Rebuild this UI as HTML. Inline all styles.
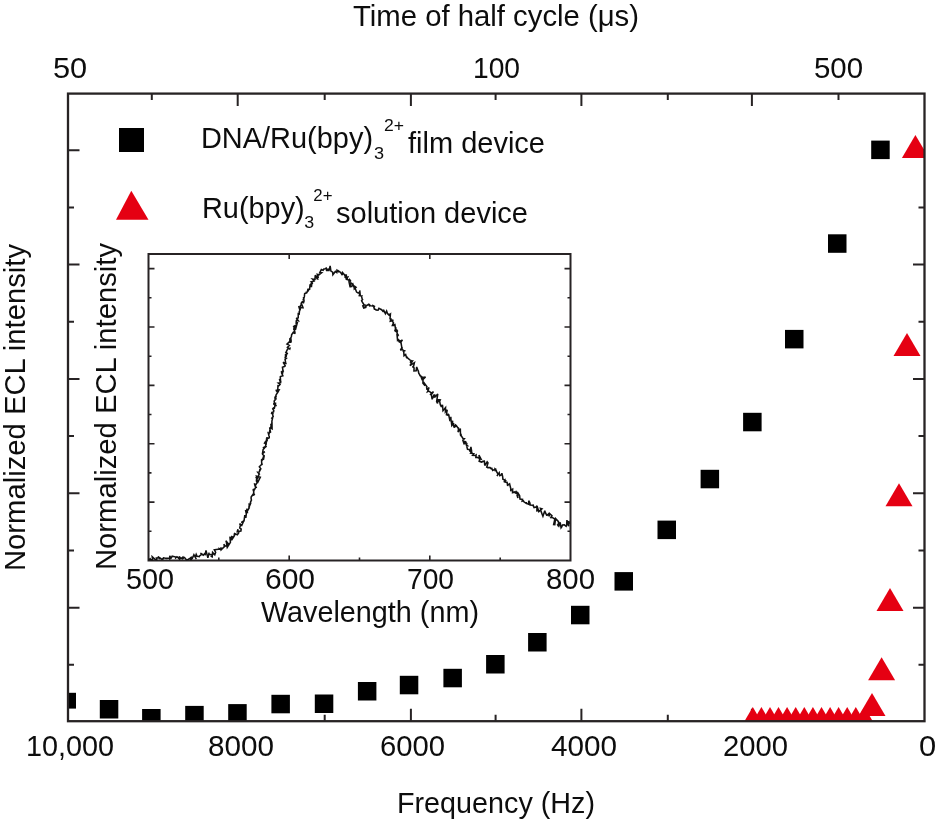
<!DOCTYPE html><html><head><meta charset="utf-8"><style>html,body{margin:0;padding:0;background:#fff;overflow:hidden}svg{display:block;will-change:transform}text{font-family:"Liberation Sans",sans-serif;fill:#0d0d0d;}</style></head><body>
<svg width="936" height="821" viewBox="0 0 936 821">
<defs><clipPath id="mc"><rect x="68" y="93.6" width="856.5" height="627.6"/></clipPath><clipPath id="ic"><rect x="148.5" y="254" width="422" height="306.5"/></clipPath></defs>
<g id="shapes"><path d="M68,664.8h6M924.5,664.8h-6M68,607.7h11.5M924.5,607.7h-11.5M68,550.5h6M924.5,550.5h-6M68,493.3h11.5M924.5,493.3h-11.5M68,436.1h6M924.5,436.1h-6M68,379.0h11.5M924.5,379.0h-11.5M68,321.8h6M924.5,321.8h-6M68,264.6h11.5M924.5,264.6h-11.5M68,207.5h6M924.5,207.5h-6M68,150.3h11.5M924.5,150.3h-11.5M838.5,93.6v6.5M838.5,721.2v-6.5M751.9,93.6v12.5M751.9,721.2v-12.5M667.8,93.6v6.5M667.8,721.2v-6.5M581.4,93.6v12.5M581.4,721.2v-12.5M495.6,93.6v6.5M495.6,721.2v-6.5M410.9,93.6v12.5M410.9,721.2v-12.5M324.7,93.6v6.5M324.7,721.2v-6.5M237.7,93.6v12.5M237.7,721.2v-12.5M151.8,93.6v6.5M151.8,721.2v-6.5" stroke="#272324" stroke-width="2" fill="none"/>
<g clip-path="url(#mc)">
<rect x="60" y="692.8" width="16" height="15.8" fill="#000"/>
<rect x="99.8" y="700.0" width="18.5" height="18.5" fill="#000"/>
<rect x="142.1" y="709.0" width="18.5" height="18.5" fill="#000"/>
<rect x="185.2" y="705.9" width="18.5" height="18.5" fill="#000"/>
<rect x="228.2" y="704.1" width="18.5" height="18.5" fill="#000"/>
<rect x="271.4" y="694.8" width="18.5" height="18.5" fill="#000"/>
<rect x="314.8" y="694.5" width="18.5" height="18.5" fill="#000"/>
<rect x="357.9" y="682.0" width="18.5" height="18.5" fill="#000"/>
<rect x="399.8" y="675.8" width="18.5" height="18.5" fill="#000"/>
<rect x="443.4" y="668.8" width="18.5" height="18.5" fill="#000"/>
<rect x="486.1" y="655.0" width="18.5" height="18.5" fill="#000"/>
<rect x="528.1" y="633.0" width="18.5" height="18.5" fill="#000"/>
<rect x="571.0" y="605.8" width="18.5" height="18.5" fill="#000"/>
<rect x="614.5" y="572.1" width="18.5" height="18.5" fill="#000"/>
<rect x="657.5" y="520.6" width="18.5" height="18.5" fill="#000"/>
<rect x="700.6" y="469.8" width="18.5" height="18.5" fill="#000"/>
<rect x="743.1" y="412.8" width="18.5" height="18.5" fill="#000"/>
<rect x="785.0" y="329.9" width="18.5" height="18.5" fill="#000"/>
<rect x="828.0" y="234.3" width="18.5" height="18.5" fill="#000"/>
<rect x="871.2" y="140.6" width="18.5" height="18.5" fill="#000"/>
<path d="M915.4,134.9L928.9,157.9L901.9,157.9Z" fill="#e50012"/>
<path d="M907.0,333L920.5,356L893.5,356Z" fill="#e50012"/>
<path d="M899.0,483.3L912.5,506.3L885.5,506.3Z" fill="#e50012"/>
<path d="M890.0,588L903.5,611L876.5,611Z" fill="#e50012"/>
<path d="M881.6,657.3L895.1,680.3L868.1,680.3Z" fill="#e50012"/>
<path d="M752.8,707L766.3,730L739.3,730Z" fill="#e50012"/>
<path d="M761.4,707L774.9,730L747.9,730Z" fill="#e50012"/>
<path d="M770.0,707L783.5,730L756.5,730Z" fill="#e50012"/>
<path d="M778.5,707L792.0,730L765.0,730Z" fill="#e50012"/>
<path d="M787.1,707L800.6,730L773.6,730Z" fill="#e50012"/>
<path d="M795.7,707L809.2,730L782.2,730Z" fill="#e50012"/>
<path d="M804.3,707L817.8,730L790.8,730Z" fill="#e50012"/>
<path d="M812.9,707L826.4,730L799.4,730Z" fill="#e50012"/>
<path d="M821.5,707L835.0,730L808.0,730Z" fill="#e50012"/>
<path d="M830.1,707L843.6,730L816.6,730Z" fill="#e50012"/>
<path d="M838.6,707L852.1,730L825.1,730Z" fill="#e50012"/>
<path d="M847.2,707L860.7,730L833.7,730Z" fill="#e50012"/>
<path d="M855.8,707L869.3,730L842.3,730Z" fill="#e50012"/>
<path d="M864.4,707L877.9,730L850.9,730Z" fill="#e50012"/>
<path d="M872.0,693L885.5,716L858.5,716Z" fill="#e50012"/>
</g>
<rect x="68" y="93.6" width="856.5" height="627.6" fill="none" stroke="#272324" stroke-width="2.3"/>
<rect x="119" y="128" width="25" height="24" fill="#000"/>
<path d="M131.3,190.8L148.5,219.7L116,219.7Z" fill="#e50012"/>
<path d="M148.5,531.3h3M570.5,531.3h-3M148.5,502.1h6M570.5,502.1h-6M148.5,472.9h3M570.5,472.9h-3M148.5,443.7h6M570.5,443.7h-6M148.5,414.5h3M570.5,414.5h-3M148.5,385.4h6M570.5,385.4h-6M148.5,356.2h3M570.5,356.2h-3M148.5,327.0h6M570.5,327.0h-6M148.5,297.8h3M570.5,297.8h-3M148.5,268.6h6M570.5,268.6h-6M218.8,560.5v-3M289.2,254v5M289.2,560.5v-5M359.5,560.5v-3M429.8,254v5M429.8,560.5v-5M500.2,560.5v-3" stroke="#272324" stroke-width="1.6" fill="none"/>
<rect x="148.5" y="254" width="422.0" height="306.5" fill="none" stroke="#272324" stroke-width="2"/>
<polyline clip-path="url(#ic)" points="147.80,560.10 150.90,558.50 149.90,559.04 152.63,560.72 152.21,556.71 155.04,559.36 156.82,560.12 156.39,558.07 159.84,558.00 157.86,556.59 159.69,558.60 160.34,558.22 161.93,559.38 163.72,558.56 162.16,559.30 163.53,557.86 164.53,558.09 166.19,558.38 170.91,557.91 169.73,555.82 169.76,558.95 170.98,558.44 172.19,556.19 173.61,556.50 175.80,556.99 175.74,557.80 176.98,556.84 178.03,557.60 179.27,558.80 179.27,556.55 180.84,558.55 182.63,557.20 182.66,558.61 183.42,558.13 184.34,556.84 184.27,557.17 186.72,560.22 188.07,559.49 188.90,558.92 189.35,558.79 191.77,556.78 190.53,560.20 192.36,558.37 193.91,554.75 196.30,559.16 195.25,557.28 196.19,554.42 196.96,556.18 199.05,556.47 199.08,557.26 199.33,556.11 202.00,554.13 200.42,553.08 203.27,555.30 205.48,552.78 205.11,555.35 205.99,550.44 207.89,557.86 209.09,552.62 208.85,554.37 212.49,554.93 211.38,556.36 212.23,556.78 212.60,552.35 214.78,554.71 215.63,552.23 214.32,549.92 216.32,549.52 218.31,549.15 219.41,549.13 219.31,548.73 220.91,549.46 221.01,547.26 221.13,549.74 224.58,546.43 223.76,544.28 225.25,546.11 227.79,545.45 225.84,540.69 228.54,543.92 226.54,543.18 227.26,547.41 230.44,542.33 230.00,537.53 230.76,537.69 232.14,536.09 231.45,540.33 234.41,535.93 232.22,538.22 235.03,534.62 234.31,534.26 234.53,533.48 237.39,534.73 238.78,532.77 237.48,530.63 238.16,529.33 237.33,531.55 240.90,530.96 241.18,529.13 239.71,527.94 240.39,525.19 239.58,523.69 241.48,525.19 241.43,526.16 242.40,523.94 243.71,520.89 241.22,522.31 242.75,522.20 244.04,520.79 244.80,515.21 245.14,516.38 244.19,515.79 245.94,516.82 246.53,512.06 245.47,510.04 246.29,513.55 246.08,512.07 247.36,512.27 246.79,508.57 247.22,511.49 249.28,507.73 248.88,507.14 249.24,505.71 249.14,503.19 249.25,506.61 250.69,503.28 250.39,502.33 251.29,500.32 251.53,500.70 251.06,498.21 251.22,496.85 253.30,493.96 252.53,495.60 252.48,495.68 254.32,494.66 253.44,492.65 253.72,493.95 253.75,489.88 253.23,488.96 253.38,491.28 255.22,488.29 256.48,486.68 256.11,487.88 254.31,483.36 255.13,486.08 257.40,481.89 257.44,482.18 256.41,480.94 256.74,478.06 256.40,477.95 258.01,481.96 260.29,477.34 256.55,476.26 257.52,478.86 259.15,473.82 259.74,474.74 257.70,472.16 259.22,472.01 259.82,470.49 260.14,469.14 259.43,471.32 260.82,468.72 259.33,466.84 261.77,464.17 262.29,464.55 261.93,463.96 262.03,464.98 261.74,464.55 261.56,459.79 263.08,458.57 262.27,460.51 263.86,455.47 263.40,459.95 264.19,455.75 262.74,454.64 262.41,453.68 263.45,452.84 264.85,451.70 262.64,452.60 263.16,449.34 264.17,448.48 263.56,447.61 266.59,446.05 264.67,447.63 265.63,446.08 265.91,440.96 264.52,443.09 266.15,443.90 266.52,440.66 266.54,439.76 267.12,440.14 266.99,436.97 266.93,438.90 269.25,437.80 269.27,436.62 268.90,435.42 268.35,433.18 269.04,433.63 269.58,431.44 270.63,432.63 269.72,428.18 271.34,426.92 271.17,426.72 270.84,423.84 271.74,424.81 270.46,427.67 272.07,428.81 271.97,422.02 271.86,423.94 271.91,421.20 272.56,418.15 272.38,417.76 271.31,418.81 273.20,416.61 271.95,412.47 273.37,414.32 271.58,413.35 271.90,412.38 273.56,411.94 273.80,410.64 272.74,408.79 273.47,407.99 274.34,408.26 275.74,402.46 274.79,404.99 276.65,405.67 273.28,403.85 274.46,403.72 274.15,401.06 275.15,400.05 274.91,396.42 276.01,399.66 275.71,395.61 276.12,396.97 275.94,395.08 277.64,392.45 276.14,390.31 276.29,391.09 276.33,390.19 279.08,389.96 277.63,392.59 277.95,385.72 278.64,385.95 280.03,384.52 278.30,383.01 279.19,382.93 279.31,382.92 279.09,383.93 280.76,381.64 279.38,378.97 280.71,383.20 280.33,377.46 280.38,376.03 280.41,376.40 282.85,375.73 281.37,372.35 282.29,373.76 281.22,371.16 282.52,373.30 283.34,371.09 282.72,370.25 283.22,372.02 282.44,367.20 284.83,366.35 285.20,365.67 284.27,364.17 283.13,362.27 286.59,363.68 285.37,363.14 285.56,362.23 285.04,359.36 286.39,358.16 284.53,357.34 285.47,357.59 285.54,354.07 286.11,356.98 286.60,353.89 286.87,353.08 287.93,353.72 285.84,352.66 287.54,349.13 289.93,348.35 289.75,349.05 287.44,347.32 289.40,345.40 287.01,344.06 289.30,341.91 291.49,342.19 289.86,341.10 289.88,339.38 291.04,340.01 290.87,338.40 290.44,338.31 291.39,336.84 291.61,334.73 292.99,332.68 295.31,333.44 293.31,331.40 295.10,333.58 294.23,328.45 293.79,330.42 294.07,326.72 293.75,326.34 295.12,325.53 295.42,329.69 297.28,322.94 296.29,323.63 296.14,324.06 296.26,321.01 296.51,320.35 298.29,320.66 296.21,317.84 296.99,318.72 298.20,317.83 298.26,312.68 299.04,314.92 299.41,311.67 299.34,311.64 298.97,312.24 300.22,309.41 298.68,306.08 300.02,310.52 300.80,304.50 300.39,307.55 302.99,307.71 302.13,305.30 301.16,303.36 302.13,301.92 302.81,301.54 303.37,303.32 304.05,300.84 303.48,296.97 303.91,299.11 303.43,299.21 304.35,296.93 304.67,293.53 307.14,292.72 306.43,292.67 306.36,291.43 306.25,293.16 308.89,289.65 307.66,291.48 307.60,290.27 307.97,289.25 309.59,289.30 310.03,284.83 310.82,284.11 311.41,287.17 311.78,283.21 312.83,283.43 311.15,281.79 314.06,281.00 313.41,280.09 312.48,279.10 315.01,279.44 315.22,275.18 317.17,278.73 317.68,278.86 317.05,275.26 318.43,277.94 317.32,274.35 318.89,274.79 321.54,272.77 319.80,272.55 321.35,269.42 323.10,270.21 323.91,268.97 325.29,268.73 326.25,268.12 327.54,270.22 325.90,270.37 328.60,269.18 328.86,271.02 330.15,265.96 330.91,271.14 332.68,272.18 332.91,274.66 335.37,271.47 336.74,272.60 336.98,270.40 338.92,272.13 337.31,270.18 340.45,272.33 341.30,273.46 342.20,275.21 342.55,272.57 344.39,274.62 345.40,276.58 344.86,276.94 346.30,274.47 346.35,280.01 347.77,277.03 345.50,277.47 347.61,279.54 350.92,281.39 349.71,279.71 348.96,281.65 350.19,287.32 350.84,282.73 352.82,284.62 351.39,287.25 352.92,284.14 354.19,287.69 354.30,288.82 356.04,287.27 354.15,285.82 356.58,292.07 358.30,293.13 359.77,291.89 359.75,290.39 360.12,294.09 359.81,293.82 359.28,295.68 361.83,295.90 361.55,296.44 361.69,296.91 362.19,299.08 362.53,299.48 361.58,300.88 363.96,304.73 363.13,304.55 364.50,304.92 362.81,305.80 363.73,308.06 366.41,307.23 364.52,307.23 368.53,304.38 369.87,306.41 369.94,305.23 370.28,305.65 375.08,306.60 373.45,305.80 373.67,306.42 374.39,309.04 375.91,309.50 376.07,310.07 378.05,310.15 378.94,308.29 381.09,309.45 380.87,309.20 382.18,310.38 383.25,311.92 383.38,309.72 385.39,313.64 386.63,310.98 387.54,313.71 388.26,314.21 388.71,314.32 390.24,314.20 388.52,315.75 390.40,314.10 390.03,318.70 390.91,318.91 390.32,321.09 393.44,320.38 391.61,319.90 393.48,322.75 392.38,325.37 394.19,325.40 392.33,325.30 394.88,324.57 395.56,329.51 396.07,327.24 394.91,330.69 396.85,332.07 397.44,331.03 396.40,329.35 397.89,336.51 397.17,333.33 398.58,335.56 397.03,334.96 397.54,340.09 398.15,339.36 400.78,341.95 400.60,342.58 398.47,340.65 399.19,341.76 402.47,340.03 400.88,341.90 401.84,347.74 400.44,350.23 401.45,349.75 402.15,347.18 402.01,348.99 403.40,350.42 405.45,350.79 403.39,350.76 403.60,350.36 404.06,355.67 405.65,354.47 406.57,357.68 407.45,357.97 407.05,356.85 407.50,358.02 408.11,358.34 409.34,359.49 409.83,359.82 411.81,360.95 410.29,362.82 410.79,361.26 412.41,360.98 410.00,365.55 414.40,362.68 413.23,367.80 412.81,365.89 414.08,368.02 413.96,370.95 416.17,370.68 416.68,366.93 417.52,369.27 418.35,371.06 418.73,373.14 420.40,375.86 419.48,375.23 422.37,377.06 421.08,376.75 422.11,379.63 423.13,379.41 425.52,377.07 423.04,377.39 422.94,383.30 425.06,385.77 423.45,381.98 426.95,386.61 426.87,387.30 426.53,386.61 426.95,389.23 427.20,389.23 429.08,387.47 427.52,391.67 428.72,391.06 431.60,392.90 430.09,394.95 433.49,391.51 431.37,394.60 432.16,399.26 433.96,395.13 434.69,395.13 434.46,397.60 437.78,393.91 436.63,401.53 437.55,403.40 437.91,400.81 438.02,399.68 440.24,399.84 439.28,401.88 439.31,399.43 440.30,404.70 441.40,406.82 441.75,404.78 442.86,408.11 442.45,404.81 443.02,410.56 445.52,407.72 445.40,411.84 447.18,409.85 446.44,414.63 449.51,415.71 446.99,414.50 448.43,414.39 448.63,414.50 449.74,419.76 450.90,418.06 450.82,416.73 451.11,421.43 452.59,423.72 452.60,420.87 451.43,422.58 451.86,425.64 453.36,423.65 453.24,423.63 454.14,427.63 455.72,424.16 454.46,426.99 456.46,425.73 458.13,428.21 458.40,428.16 458.49,429.13 458.03,432.14 460.30,428.61 460.50,435.02 461.10,436.23 461.11,434.71 460.65,433.93 460.65,434.89 462.98,438.52 464.28,438.72 462.82,440.23 464.05,443.74 466.41,443.12 464.09,441.24 465.76,441.82 466.53,445.42 467.28,445.49 466.20,444.40 467.52,449.30 469.68,449.42 469.22,449.62 470.26,451.58 470.92,446.98 471.64,451.41 471.00,452.46 472.30,452.14 471.15,453.23 473.80,453.71 472.66,455.31 475.53,455.42 476.05,455.05 475.87,457.36 476.93,457.35 480.97,458.99 478.95,455.20 479.71,460.36 479.78,459.11 479.17,461.26 481.53,462.07 484.16,461.04 484.68,462.39 484.47,461.96 484.75,465.50 487.17,461.73 488.00,462.82 486.75,467.06 487.82,467.61 490.02,467.64 491.16,468.69 491.80,468.29 492.50,469.97 492.71,470.51 495.21,469.15 495.03,468.99 495.17,471.16 495.90,469.67 496.97,472.41 498.08,474.09 496.98,476.12 499.21,472.66 499.82,475.67 501.72,474.82 501.87,473.18 502.66,476.69 502.91,479.28 505.59,480.48 503.94,482.33 505.01,480.27 505.46,482.12 507.16,482.45 507.14,482.81 507.64,485.85 508.13,484.59 509.01,484.33 509.60,483.84 510.77,488.53 510.73,491.32 510.86,490.30 512.63,489.11 512.58,492.69 513.66,492.26 515.65,492.85 513.70,491.77 516.75,493.64 515.83,490.86 517.89,498.16 517.28,491.94 519.65,495.74 519.74,496.87 519.99,499.03 522.54,499.41 522.14,501.21 523.45,500.87 523.63,501.54 526.05,503.26 526.33,502.19 526.70,503.54 528.83,504.44 528.71,500.62 529.91,503.06 530.22,505.12 532.65,505.25 533.66,505.82 532.66,504.55 534.08,507.51 536.08,507.05 537.02,505.82 536.88,510.75 538.24,510.48 537.03,505.95 538.81,511.55 541.88,508.77 540.43,508.40 541.46,512.60 542.92,516.21 544.79,510.63 545.31,512.36 546.75,515.35 546.69,515.80 548.46,513.96 549.13,516.26 549.57,513.53 551.93,515.62 550.93,517.50 550.80,517.34 551.55,517.00 551.82,517.11 554.85,519.18 553.63,524.51 554.80,524.71 555.54,518.56 558.47,521.66 558.34,526.15 557.34,524.18 558.83,526.11 560.16,522.37 561.06,527.81 561.74,526.84 562.53,524.89 564.31,524.85 566.13,526.25 566.65,525.11 566.94,520.08 568.64,526.31 568.80,521.02 569.47,523.86" fill="none" stroke="#111" stroke-width="1.55" stroke-linejoin="miter" stroke-miterlimit="3"/>
</g>
<text id="title" transform="translate(353.00,26.0) scale(1,1.0)" font-size="29.3" textLength="286.01" lengthAdjust="spacingAndGlyphs">Time of half cycle (μs)</text>
<text id="t50" transform="translate(52.91,77.8) scale(1,1.0)" font-size="29.3" textLength="34.16" lengthAdjust="spacingAndGlyphs">50</text>
<text id="t100" transform="translate(472.94,77.8) scale(1,1.0)" font-size="29.3" textLength="47.10" lengthAdjust="spacingAndGlyphs">100</text>
<text id="t500" transform="translate(813.95,77.8) scale(1,1.0)" font-size="29.3" textLength="49.08" lengthAdjust="spacingAndGlyphs">500</text>
<text id="b10000" transform="translate(25.96,755.8) scale(1,1.0)" font-size="29.3" textLength="88.06" lengthAdjust="spacingAndGlyphs">10,000</text>
<text id="b8000" transform="translate(207.99,755.8) scale(1,1.0)" font-size="29.3" textLength="66.04" lengthAdjust="spacingAndGlyphs">8000</text>
<text id="b6000" transform="translate(379.98,755.8) scale(1,1.0)" font-size="29.3" textLength="65.03" lengthAdjust="spacingAndGlyphs">6000</text>
<text id="b4000" transform="translate(550.98,755.8) scale(1,1.0)" font-size="29.3" textLength="66.03" lengthAdjust="spacingAndGlyphs">4000</text>
<text id="b2000" transform="translate(723.00,755.8) scale(1,1.0)" font-size="29.3" textLength="65.00" lengthAdjust="spacingAndGlyphs">2000</text>
<text id="b0" transform="translate(918.96,755.8) scale(1,1.0)" font-size="29.3" textLength="17.17" lengthAdjust="spacingAndGlyphs">0</text>
<text id="freq" transform="translate(396.98,812.7) scale(1,1.0)" font-size="29.3" textLength="198.03" lengthAdjust="spacingAndGlyphs">Frequency (Hz)</text>
<text id="l1a" transform="translate(200.97,148.2) scale(1,1.0)" font-size="29.3" textLength="172.06" lengthAdjust="spacingAndGlyphs">DNA/Ru(bpy)</text>
<text id="l1b" transform="translate(374.02,158.5) scale(1,1.0)" font-size="16" textLength="10.08" lengthAdjust="spacingAndGlyphs">3</text>
<text id="l1c" transform="translate(383.97,131.0) scale(1,1.0)" font-size="16" textLength="20.04" lengthAdjust="spacingAndGlyphs">2+</text>
<text id="l1d" transform="translate(408.00,152.6) scale(1,1.0)" font-size="29.3" textLength="137.00" lengthAdjust="spacingAndGlyphs">film device</text>
<text id="l2a" transform="translate(202.00,217.9) scale(1,1.0)" font-size="29.3" textLength="102.70" lengthAdjust="spacingAndGlyphs">Ru(bpy)</text>
<text id="l2b" transform="translate(304.35,227.5) scale(1,1.0)" font-size="16" textLength="9.92" lengthAdjust="spacingAndGlyphs">3</text>
<text id="l2c" transform="translate(313.36,201.4) scale(1,1.0)" font-size="16" textLength="19.15" lengthAdjust="spacingAndGlyphs">2+</text>
<text id="l2d" transform="translate(335.99,222.7) scale(1,1.0)" font-size="29.3" textLength="192.01" lengthAdjust="spacingAndGlyphs">solution device</text>
<text id="i500" transform="translate(126.01,588.5) scale(1,1.0)" font-size="29.3" textLength="48.01" lengthAdjust="spacingAndGlyphs">500</text>
<text id="i600" transform="translate(264.94,588.5) scale(1,1.0)" font-size="29.3" textLength="50.12" lengthAdjust="spacingAndGlyphs">600</text>
<text id="i700" transform="translate(406.97,588.5) scale(1,1.0)" font-size="29.3" textLength="47.06" lengthAdjust="spacingAndGlyphs">700</text>
<text id="i800" transform="translate(545.98,588.5) scale(1,1.0)" font-size="29.3" textLength="49.05" lengthAdjust="spacingAndGlyphs">800</text>
<text id="wave" transform="translate(260.99,622.0) scale(1,1.0)" font-size="29.3" textLength="218.01" lengthAdjust="spacingAndGlyphs">Wavelength (nm)</text>
<text id="ylab" transform="translate(24.9,571.01) rotate(-90) scale(1,1.0)" font-size="29.3" textLength="327.01" lengthAdjust="spacingAndGlyphs">Normalized ECL intensity</text>
<text id="iylab" transform="translate(116.1,570.01) rotate(-90) scale(1,1.0)" font-size="29.3" textLength="327.01" lengthAdjust="spacingAndGlyphs">Normalized ECL intensity</text>
</svg></body></html>
